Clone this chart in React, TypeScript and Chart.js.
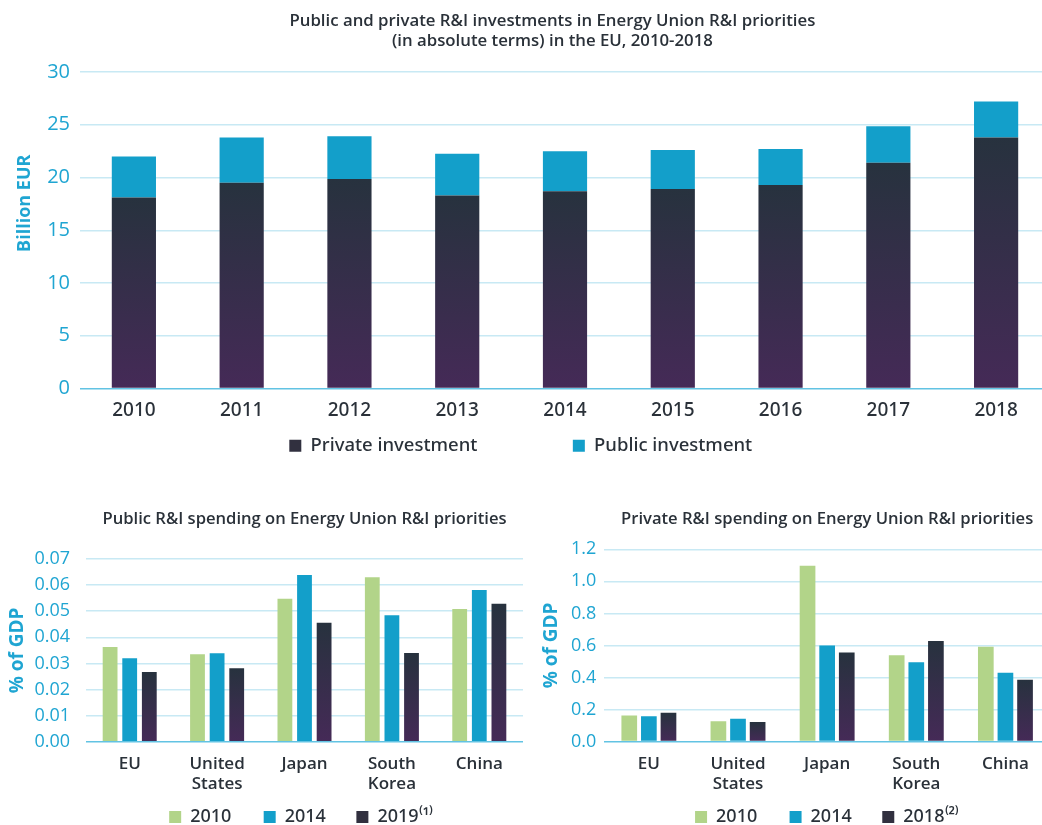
import React, { useEffect, useRef } from "react";
import { Chart, registerables } from "chart.js";

Chart.register(...registerables);

// ---------- data ----------
const years = ["2010", "2011", "2012", "2013", "2014", "2015", "2016", "2017", "2018"];
const privateInvestment = [18.1, 19.5, 19.85, 18.3, 18.7, 18.9, 19.3, 21.4, 23.8];
const publicInvestment = [3.9, 4.3, 4.05, 3.95, 3.8, 3.7, 3.4, 3.45, 3.4];

const countries = [["EU"], ["United", "States"], ["Japan"], ["South", "Korea"], ["China"]];
const publicSpending2010 = [0.0363, 0.0335, 0.0548, 0.063, 0.0509];
const publicSpending2014 = [0.032, 0.0339, 0.0639, 0.0485, 0.0581];
const publicSpending2019 = [0.0267, 0.0282, 0.0456, 0.034, 0.0529];
const privateSpending2010 = [0.163, 0.127, 1.098, 0.538, 0.591];
const privateSpending2014 = [0.157, 0.142, 0.599, 0.495, 0.43];
const privateSpending2018 = [0.18, 0.121, 0.555, 0.628, 0.386];

const topTitle = [
  "Public and private R&I investments in Energy Union R&I priorities",
  "(in absolute terms) in the EU, 2010-2018",
];
const leftTitle = "Public R&I spending on Energy Union R&I priorities";
const rightTitle = "Private R&I spending on Energy Union R&I priorities";
const topYTitle = "Billion EUR";
const bottomYTitle = "% of GDP";
const topLegend = ["Private investment", "Public investment"];
const leftLegend = ["2010", "2014", "2019⁽¹⁾"];
const rightLegend = ["2010", "2014", "2018⁽²⁾"];

// ---------- styles ----------
const FONT = "'Open Sans', 'Noto Sans', sans-serif";
const FONT_MED = "'Noto Sans', 'Open Sans', sans-serif";
const CYAN_TEXT = "#1fa5d2";
const DARK_TEXT = "#2a3139";
const GRID = "#c8e9f4";
const ZERO = "#62c3e3";
const GREEN = "#b2d489";
const BLUE = "#139fca";
const DARK_SOLID = "#31303f";
const LEGEND_PAD = 10;

function darkFill(c: any) {
  const chart = c.chart;
  const y = chart.scales && chart.scales.y;
  if (!chart.chartArea || !y || c.type !== "data") return DARK_SOLID;
  const v = c.raw as number;
  const top = y.getPixelForValue(v);
  const bottom = y.getPixelForValue(0);
  if (!isFinite(top) || !isFinite(bottom) || top === bottom) return DARK_SOLID;
  const g = chart.ctx.createLinearGradient(0, top, 0, bottom);
  g.addColorStop(0, "#27323e");
  g.addColorStop(1, "#452a57");
  return g;
}

// Legend entries; trailing blank space sets the spacing between entries.
function legendLabels(names: string[], colors: string[], pitches: number[], fontSize: number, weight: string, boxW: number) {
  return (chart: any) => {
    const ctx = chart.ctx;
    ctx.save();
    ctx.font = `normal ${weight} ${fontSize}px ${FONT_MED}`;
    const items = names.map((name, i) => {
      let text = name;
      const pitch = pitches[i];
      if (pitch) {
        const target = pitch - boxW - fontSize / 2 - LEGEND_PAD;
        let guard = 0;
        while (ctx.measureText(text + " ").width <= target && guard++ < 300) text += " ";
        guard = 0;
        while (ctx.measureText(text + "\u200A").width <= target && guard++ < 300) text += "\u200A";
      }
      return {
        text,
        fillStyle: colors[i],
        strokeStyle: colors[i],
        lineWidth: 0,
        hidden: false,
        datasetIndex: i,
        fontColor: DARK_TEXT,
      };
    });
    ctx.restore();
    return items;
  };
}

function gridColor(c: any) {
  return c.tick && c.tick.value === 0 ? ZERO : GRID;
}

// ---------- configs ----------
function topConfig(): any {
  return {
    type: "bar",
    data: {
      labels: years,
      datasets: [
        { label: topLegend[0], data: privateInvestment, backgroundColor: darkFill, barPercentage: 0.41, categoryPercentage: 1 },
        { label: topLegend[1], data: publicInvestment, backgroundColor: BLUE, barPercentage: 0.41, categoryPercentage: 1 },
      ],
    },
    options: {
      responsive: false,
      animation: false,
      events: [],
      layout: { padding: { left: 0, right: 12, top: 0, bottom: 0 } },
      scales: {
        x: {
          stacked: true,
          grid: { display: false },
          border: { display: false },
          ticks: { color: DARK_TEXT, font: { family: FONT_MED, size: 19, weight: "500" }, padding: 3, maxRotation: 0, autoSkip: false },
          afterFit: (s: any) => { s.height = 38; },
        },
        y: {
          stacked: true,
          min: 0,
          max: 30,
          ticks: { stepSize: 5, color: CYAN_TEXT, font: { family: FONT, size: 20 }, padding: 10 },
          grid: { color: gridColor, lineWidth: 1.5, drawTicks: false },
          border: { display: false },
          title: {
            display: true,
            text: "\u2003\u2003\u2003" + topYTitle,
            color: CYAN_TEXT,
            font: { family: FONT, size: 18, weight: "bold" },
            padding: { top: 14, bottom: 0 },
          },
          afterFit: (s: any) => { s.width = 80; },
        },
      },
      plugins: {
        tooltip: { enabled: false },
        title: {
          display: true,
          fullSize: false,
          text: topTitle.map((t) => t + "\u2003\u2002"),
          color: DARK_TEXT,
          font: { family: FONT, size: 16.8, weight: "600", lineHeight: 1.155 },
          padding: { top: 12, bottom: 21.2 },
        },
        legend: {
          position: "bottom",
          labels: {
            font: { family: FONT_MED, size: 18.5, weight: "500" },
            color: DARK_TEXT,
            boxWidth: 12,
            boxHeight: 12,
            padding: LEGEND_PAD,
            generateLabels: legendLabels(topLegend, [DARK_SOLID, BLUE], [284, 198], 18.5, "500", 12),
          },
        },
      },
    },
  };
}

function bottomConfig(opts: {
  title: string;
  legend: string[];
  d1: number[];
  d2: number[];
  d3: number[];
  max: number;
  step: number;
  decimals: number;
  yWidth: number;
  yPad: number;
  yTitlePad: number;
  padRight: number;
  titleBottom: number;
  xHeight: number;
  catPct: number;
  barPct: number;
  pitches: number[];
}): any {
  const ds = (label: string, data: number[], bg: any) => ({
    label,
    data,
    backgroundColor: bg,
    categoryPercentage: opts.catPct,
    barPercentage: opts.barPct,
  });
  return {
    type: "bar",
    data: {
      labels: countries,
      datasets: [ds(opts.legend[0], opts.d1, GREEN), ds(opts.legend[1], opts.d2, BLUE), ds(opts.legend[2], opts.d3, darkFill)],
    },
    options: {
      responsive: false,
      animation: false,
      events: [],
      layout: { padding: { left: 0, right: opts.padRight, top: 0, bottom: 0 } },
      scales: {
        x: {
          grid: { display: false },
          border: { display: false },
          ticks: { color: DARK_TEXT, font: { family: FONT, size: 17, weight: "600", lineHeight: 1.21 }, padding: 4, maxRotation: 0, autoSkip: false },
          afterFit: (s: any) => { s.height = opts.xHeight; },
        },
        y: {
          min: 0,
          max: opts.max,
          ticks: {
            stepSize: opts.step,
            color: CYAN_TEXT,
            font: { family: FONT, size: 18 },
            padding: opts.yPad,
            callback: (v: any) => Number(v).toFixed(opts.decimals),
          },
          grid: { color: gridColor, lineWidth: 1.5, drawTicks: false },
          border: { display: false },
          title: {
            display: true,
            text: bottomYTitle,
            color: CYAN_TEXT,
            font: { family: FONT, size: 19, weight: "bold" },
            padding: { top: opts.yTitlePad, bottom: 0 },
          },
          afterFit: (s: any) => { s.width = opts.yWidth; },
        },
      },
      plugins: {
        tooltip: { enabled: false },
        title: {
          display: true,
          fullSize: false,
          text: opts.title,
          color: DARK_TEXT,
          font: { family: FONT, size: 16.6, weight: "600", lineHeight: 1.2 },
          padding: { top: 19, bottom: opts.titleBottom },
        },
        legend: {
          position: "bottom",
          fullSize: false,
          labels: {
            font: { family: FONT_MED, size: 18, weight: "500" },
            color: DARK_TEXT,
            boxWidth: 12,
            boxHeight: 12,
            padding: LEGEND_PAD,
            generateLabels: legendLabels(opts.legend, [GREEN, BLUE, DARK_SOLID], opts.pitches, 18, "500", 12),
          },
        },
      },
    },
  };
}

// ---------- component ----------
function ChartCanvas(props: { left: number; top: number; width: number; height: number; make: () => any }) {
  const ref = useRef<HTMLCanvasElement>(null);
  useEffect(() => {
    if (!ref.current) return;
    const chart = new Chart(ref.current, props.make());
    return () => chart.destroy();
  }, []);
  return (
    <canvas
      ref={ref}
      width={props.width}
      height={props.height}
      style={{ position: "absolute", left: props.left, top: props.top, width: props.width, height: props.height }}
    />
  );
}

export default function App() {
  return (
    <div
      style={{
        position: "absolute",
        left: 0,
        top: 0,
        width: 1042,
        height: 825,
        overflow: "hidden",
        background: "#ffffff",
      }}
    >
      <ChartCanvas left={0} top={0} width={1062} height={465} make={topConfig} />
      <ChartCanvas
        left={0}
        top={490}
        width={530}
        height={346}
        make={() =>
          bottomConfig({
            title: leftTitle,
            legend: leftLegend,
            d1: publicSpending2010,
            d2: publicSpending2014,
            d3: publicSpending2019,
            max: 0.07,
            step: 0.01,
            decimals: 2,
            yWidth: 86,
            yPad: 16,
            yTitlePad: 6,
            padRight: 7,
            titleBottom: 30.1,
            xHeight: 56.2,
            catPct: 0.673,
            barPct: 0.755,
            pitches: [95, 94, 94],
          })
        }
      />
      <ChartCanvas
        left={520}
        top={490}
        width={540}
        height={346}
        make={() =>
          bottomConfig({
            title: rightTitle,
            legend: rightLegend,
            d1: privateSpending2010,
            d2: privateSpending2014,
            d3: privateSpending2018,
            max: 1.2,
            step: 0.2,
            decimals: 1,
            yWidth: 84.3,
            yPad: 8,
            yTitlePad: 20.5,
            padRight: 10,
            titleBottom: 20.4,
            xHeight: 56.5,
            catPct: 0.66,
            barPct: 0.8,
            pitches: [95, 94, 77],
          })
        }
      />
    </div>
  );
}
